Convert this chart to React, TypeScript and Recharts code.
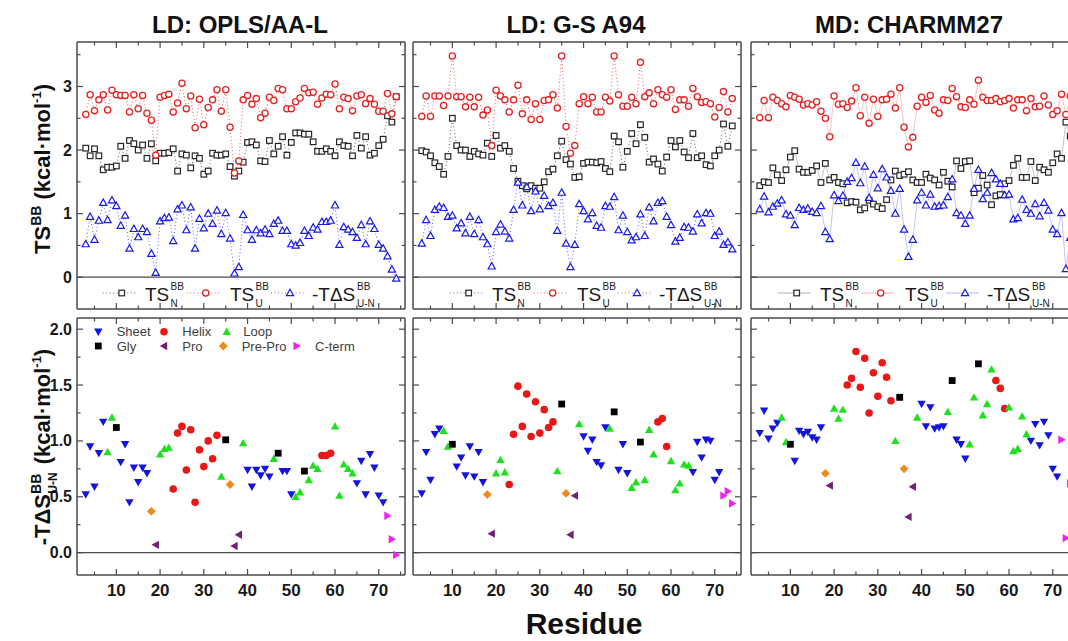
import React from 'react';
import { ComposedChart, Line, Scatter, XAxis, YAxis, ReferenceLine, Legend } from 'recharts';

const residues = [
  3, 4, 5, 6, 7, 8, 9, 10, 11, 12, 13, 14, 15, 16, 17, 18, 19, 20, 21, 22, 23, 24, 25, 26, 27, 28, 29, 30, 31, 32, 33, 34, 35, 36, 37, 38,
  39, 40, 41, 42, 43, 44, 45, 46, 47, 48, 49, 50, 51, 52, 53, 54, 55, 56, 57, 58, 59, 60, 61, 62, 63, 64, 65, 66, 67, 68, 69, 70, 71, 72, 73, 74,
];

// secondary structure class of each residue (S sheet, H helix, L loop, G gly, P pro, PP pre-pro, C c-term)
const ssClass = [
  'S', 'S', 'S', 'S', 'S', 'L', 'L', 'G', 'S', 'S',
  'S', 'S', 'S', 'S', 'S', 'PP', 'P', 'L', 'L', 'L',
  'H', 'H', 'H', 'H', 'H', 'H', 'H', 'H', 'H', 'H',
  'H', 'L', 'G', 'PP', 'P', 'P', 'L', 'S', 'S', 'S',
  'S', 'S', 'S', 'L', 'G', 'S', 'S', 'S', 'L', 'L',
  'G', 'L', 'L', 'L', 'H', 'H', 'H', 'L', 'L', 'L',
  'L', 'L', 'S', 'S', 'S', 'S', 'S', 'S', 'S', 'C',
  'C', 'C',
];

// LD: OPLS/AA-L
const oplsTSN = [
  2.03, 1.91, 2.02, 1.91, 1.69, 1.73, 1.73, 1.75, 2.06, 1.87,
  2.15, 2.10, 2.00, 2.08, 1.87, 2.10, 1.83, 1.95, 1.95, 1.96,
  2.02, 1.67, 1.94, 1.92, 1.72, 1.91, 1.87, 1.62, 1.67, 1.95,
  1.92, 1.92, 1.94, 1.74, 1.59, 1.67, 1.81, 2.12, 2.13, 2.08,
  1.83, 1.82, 2.15, 1.94, 2.06, 2.21, 1.92, 2.12, 2.27, 2.27,
  2.25, 2.25, 2.13, 1.98, 1.98, 2.02, 1.98, 1.91, 2.13, 2.07,
  2.06, 1.91, 2.23, 2.03, 2.21, 1.92, 1.95, 2.07, 2.17, 2.54,
  2.44, 2.84,
];
const oplsTSU = [
  2.56, 2.87, 2.62, 2.79, 2.87, 2.63, 2.94, 2.87, 2.86, 2.86,
  2.60, 2.87, 2.65, 2.86, 2.58, 2.47, 1.92, 2.83, 2.86, 2.88,
  2.60, 2.74, 3.05, 2.65, 2.85, 2.35, 2.80, 2.40, 2.67, 2.79,
  2.95, 2.61, 2.95, 2.36, 1.64, 1.83, 2.79, 2.86, 2.72, 2.81,
  2.51, 2.58, 2.83, 2.78, 2.97, 2.95, 2.65, 2.65, 2.76, 2.82,
  2.97, 2.90, 2.91, 2.72, 2.82, 2.88, 2.87, 3.04, 2.65, 2.83,
  2.81, 2.62, 2.85, 2.87, 2.73, 2.81, 2.72, 2.61, 2.61, 2.89,
  2.57, 2.84,
];
const oplsDS = [
  0.52, 0.95, 0.59, 0.89, 1.17, 0.90, 1.21, 1.12, 0.81, 0.97,
  0.45, 0.76, 0.63, 0.76, 0.71, 0.37, 0.07, 0.88, 0.93, 0.94,
  0.57, 1.07, 1.13, 0.74, 1.10, 0.45, 0.92, 0.77, 1.00, 0.84,
  1.05, 0.68, 1.01, 0.61, 0.06, 0.16, 0.98, 0.74, 0.59, 0.74,
  0.69, 0.75, 0.68, 0.84, 0.89, 0.73, 0.73, 0.52, 0.50, 0.54,
  0.73, 0.65, 0.78, 0.75, 0.87, 0.87, 0.89, 1.13, 0.51, 0.79,
  0.75, 0.71, 0.62, 0.82, 0.52, 0.88, 0.76, 0.51, 0.45, 0.33,
  0.12, -0.02,
];

// LD: G-S A94
const gsTSN = [
  1.99, 1.97, 1.91, 1.80, 1.74, 1.62, 1.90, 2.50, 2.07, 2.00,
  2.00, 1.90, 1.98, 1.94, 1.92, 2.11, 1.90, 2.23, 2.03, 2.07,
  1.98, 1.71, 1.51, 1.44, 1.39, 1.44, 1.40, 1.40, 1.50, 1.66,
  1.70, 1.91, 2.14, 1.85, 1.78, 1.57, 1.58, 1.79, 1.81, 1.81,
  1.80, 1.82, 1.71, 1.66, 2.22, 2.13, 1.73, 1.98, 2.26, 2.10,
  2.40, 2.20, 1.81, 1.86, 1.78, 1.67, 1.89, 2.15, 2.05, 2.15,
  1.97, 1.88, 2.26, 1.88, 1.91, 1.77, 1.75, 1.91, 2.00, 2.41,
  2.06, 2.38,
];
const gsTSU = [
  2.53, 2.85, 2.53, 2.85, 2.85, 2.70, 2.85, 3.48, 2.84, 2.84,
  2.68, 2.83, 2.68, 2.83, 2.55, 2.63, 2.07, 2.94, 2.85, 2.79,
  2.60, 2.79, 3.02, 2.57, 2.79, 2.48, 2.73, 2.48, 2.78, 2.79,
  2.87, 2.66, 3.48, 2.37, 1.95, 2.07, 2.73, 2.84, 2.73, 2.83,
  2.60, 2.60, 2.83, 2.77, 3.48, 2.87, 2.69, 2.69, 2.83, 2.73,
  3.38, 2.84, 2.90, 2.73, 2.95, 2.87, 2.83, 2.95, 2.64, 2.79,
  2.79, 2.69, 2.97, 2.84, 2.75, 2.76, 2.73, 2.52, 2.67, 2.92,
  2.60, 2.81,
];
const gsDS = [
  0.53, 0.90, 0.65, 1.06, 1.11, 1.09, 0.95, 0.97, 0.77, 0.85,
  0.69, 0.95, 0.68, 0.90, 0.63, 0.52, 0.17, 0.71, 0.83, 0.72,
  0.61, 1.06, 1.49, 1.13, 1.42, 1.04, 1.35, 1.07, 1.28, 1.12,
  1.17, 0.73, 1.33, 0.53, 0.16, 0.51, 1.15, 1.04, 0.91, 1.01,
  0.81, 0.78, 1.12, 1.11, 1.26, 0.74, 0.97, 0.71, 0.58, 0.63,
  0.99, 0.65, 1.10, 0.88, 1.17, 1.20, 0.95, 0.82, 0.56, 0.62,
  0.79, 0.78, 0.72, 0.99, 0.85, 1.01, 1.00, 0.65, 0.72, 0.51,
  0.55, 0.44,
];

// MD: CHARMM27
const chTSN = [
  1.44, 1.50, 1.49, 1.72, 1.61, 1.52, 1.69, 1.89, 1.99, 1.70,
  1.65, 1.65, 1.68, 1.75, 1.49, 1.79, 1.53, 1.57, 1.49, 1.47,
  1.17, 1.19, 1.18, 1.06, 1.09, 1.21, 1.15, 1.11, 1.08, 1.22,
  1.53, 1.67, 1.60, 1.62, 1.66, 1.53, 1.49, 1.49, 1.62, 1.56,
  1.53, 1.45, 1.65, 1.51, 1.42, 1.83, 1.71, 1.82, 1.83, 1.33,
  1.40, 1.60, 1.45, 1.14, 1.28, 1.30, 1.47, 1.52, 1.76, 1.87,
  1.57, 1.57, 1.82, 1.52, 1.73, 1.69, 1.65, 1.80, 1.94, 1.87,
  2.44, 2.22,
];
const chTSU = [
  2.51, 2.78, 2.51, 2.83, 2.78, 2.73, 2.68, 2.86, 2.83, 2.80,
  2.71, 2.73, 2.71, 2.76, 2.61, 2.50, 2.21, 2.85, 2.72, 2.73,
  2.67, 2.77, 2.98, 2.54, 2.83, 2.42, 2.80, 2.53, 2.79, 2.80,
  2.88, 2.66, 2.98, 2.36, 2.05, 2.20, 2.69, 2.83, 2.75, 2.86,
  2.63, 2.58, 2.79, 2.78, 2.97, 2.84, 2.68, 2.67, 2.79, 2.72,
  3.10, 2.83, 2.78, 2.78, 2.81, 2.76, 2.78, 2.81, 2.66, 2.79,
  2.79, 2.62, 2.81, 2.68, 2.69, 2.85, 2.71, 2.56, 2.62, 2.88,
  2.56, 2.85,
];
const chDS = [
  1.07, 1.27, 1.02, 1.11, 1.16, 1.21, 0.99, 0.97, 0.82, 1.09,
  1.06, 1.08, 1.03, 1.01, 1.12, 0.71, 0.60, 1.29, 1.20, 1.28,
  1.50, 1.56, 1.80, 1.48, 1.74, 1.25, 1.61, 1.40, 1.70, 1.57,
  1.36, 1.00, 1.39, 0.75, 0.32, 0.59, 1.21, 1.33, 1.13, 1.30,
  1.11, 1.12, 1.13, 1.26, 1.54, 1.01, 0.97, 0.84, 0.97, 1.39,
  1.69, 1.23, 1.33, 1.64, 1.54, 1.47, 1.29, 1.30, 0.91, 0.93,
  1.22, 1.06, 1.00, 1.15, 0.96, 1.17, 1.05, 0.75, 0.68, 1.01,
  0.13, 0.62,
];

const panelTitles = ['LD: OPLS/AA-L', 'LD: G-S A94', 'MD: CHARMM27'];

const classes = [
  { key: 'S', name: 'Sheet', color: '#1414dc' },
  { key: 'H', name: 'Helix', color: '#e81818' },
  { key: 'L', name: 'Loop', color: '#1ee01e' },
  { key: 'G', name: 'Gly', color: '#000000' },
  { key: 'P', name: 'Pro', color: '#74207a' },
  { key: 'PP', name: 'Pre-Pro', color: '#f08a1c' },
  { key: 'C', name: 'C-term', color: '#f020f0' },
];

const xTicks = [5, 10, 15, 20, 25, 30, 35, 40, 45, 50, 55, 60, 65, 70, 75];
const topYTicks = [0, 0.5, 1, 1.5, 2, 2.5, 3, 3.5];
const botYTicks = [0, 0.25, 0.5, 0.75, 1, 1.25, 1.5, 1.75, 2];

const FONT = 'Arial, "Liberation Sans", Helvetica, sans-serif';
const FRAME = '#4a4a4a';
const INK = '#1a1a1a';

const COL_X = [77, 413, 751];
const PANEL_W = 328;
const TOP_Y = 42;
const TOP_H = 267;
const BOT_Y = 318;
const BOT_H = 257;
const M = { top: 8, right: 8, bottom: 36, left: 52 };

const isTen = (v: number) => v % 10 === 0;
const isInt = (v: number) => Math.abs(v - Math.round(v)) < 1e-6;
const isHalf = (v: number) => isInt(v * 2);

function axisTick(side: string, major: (v: number) => boolean, fmt?: (v: number) => string) {
  return (props: any) => {
    const { x, y, payload } = props;
    const v = Number(payload.value);
    const len = major(v) ? 6 : 3.5;
    const dx = side === 'left' ? len : side === 'right' ? -len : 0;
    const dy = side === 'bottom' ? -len : side === 'top' ? len : 0;
    let label = null;
    if (fmt && major(v)) {
      label =
        side === 'bottom' ? (
          <text x={x} y={y + 21} textAnchor="middle" fontSize={17} fontWeight="bold" fill={INK} fontFamily={FONT}>
            {fmt(v)}
          </text>
        ) : (
          <text x={x - 5} y={y + 5.5} textAnchor="end" fontSize={16} fontWeight="bold" fill={INK} fontFamily={FONT}>
            {fmt(v)}
          </text>
        );
    }
    return (
      <g>
        <line x1={x} y1={y} x2={x + dx} y2={y + dy} stroke={FRAME} strokeWidth={1.2} />
        {label}
      </g>
    );
  };
}

function frameAxes(
  yDomain: number[],
  yTicks: number[],
  yMajor: (v: number) => boolean,
  xFmt?: (v: number) => string,
  yFmt?: (v: number) => string,
) {
  const line = { stroke: FRAME, strokeWidth: 1.5 };
  const common = { type: 'number' as const, interval: 0, allowDataOverflow: true, tickSize: 0, tickMargin: 0, tickLine: false, axisLine: line };
  return [
    <XAxis key="xb" xAxisId={0} dataKey="r" domain={[1, 76]} ticks={xTicks} height={1} tick={axisTick('bottom', isTen, xFmt)} {...common} />,
    <XAxis key="xt" xAxisId="t" orientation="top" dataKey="r" domain={[1, 76]} ticks={xTicks} height={1} tick={axisTick('top', isTen)} {...common} />,
    <YAxis key="yl" yAxisId={0} domain={yDomain} ticks={yTicks} width={1} tick={axisTick('left', yMajor, yFmt)} {...common} />,
    <YAxis key="yr" yAxisId="r" orientation="right" domain={yDomain} ticks={yTicks} width={1} tick={axisTick('right', yMajor)} {...common} />,
  ];
}

function openMark(kind: string, cx: number, cy: number, color: string, key?: any) {
  if (kind === 'n') return <rect key={key} x={cx - 2.8} y={cy - 2.8} width={5.6} height={5.6} fill="#fff" stroke={color} strokeWidth={1.2} />;
  if (kind === 'u') return <circle key={key} cx={cx} cy={cy} r={3.1} fill="#fff" stroke={color} strokeWidth={1.3} />;
  return <polygon key={key} points={`${cx},${cy - 3.8} ${cx + 3.6},${cy + 2.6} ${cx - 3.6},${cy + 2.6}`} fill="#fff" stroke={color} strokeWidth={1.2} />;
}

function solidMark(kind: string, cx: number, cy: number, color: string, key?: any) {
  switch (kind) {
    case 'S':
      return <polygon key={key} points={`${cx - 4.2},${cy - 3.2} ${cx + 4.2},${cy - 3.2} ${cx},${cy + 4.2}`} fill={color} />;
    case 'L':
      return <polygon key={key} points={`${cx - 4.2},${cy + 3.2} ${cx + 4.2},${cy + 3.2} ${cx},${cy - 4.2}`} fill={color} />;
    case 'H':
      return <circle key={key} cx={cx} cy={cy} r={3.8} fill={color} />;
    case 'G':
      return <rect key={key} x={cx - 3.4} y={cy - 3.4} width={6.8} height={6.8} fill={color} />;
    case 'P':
      return <polygon key={key} points={`${cx + 3.2},${cy - 4.2} ${cx + 3.2},${cy + 4.2} ${cx - 4.2},${cy}`} fill={color} />;
    case 'PP':
      return <polygon key={key} points={`${cx},${cy - 4.4} ${cx + 4.4},${cy} ${cx},${cy + 4.4} ${cx - 4.4},${cy}`} fill={color} />;
    default:
      return <polygon key={key} points={`${cx - 3.2},${cy - 4.2} ${cx - 3.2},${cy + 4.2} ${cx + 4.2},${cy}`} fill={color} />;
  }
}

const seriesTop = [
  { key: 'n', sub: 'N', label: 'TS', color: '#262626', lineColor: '#6a6a6a' },
  { key: 'u', sub: 'U', label: 'TS', color: '#e42222', lineColor: '#ee6a6a' },
  { key: 'd', sub: 'U-N', label: '-TΔS', color: '#1a1ae6', lineColor: '#6a6aee' },
];

function TopLegend({ dotted, shift }: { dotted: boolean; shift: number }) {
  const marks = [44.7, 128.7, 213];
  const texts = [68, 153, 235];
  const supX = [25.5, 25.5, 45];
  return (
    <svg width={PANEL_W} height={31} style={{ overflow: 'visible', display: 'block' }}>
      {seriesTop.map((s, i) => {
        const mx = marks[i] + shift;
        const tx = texts[i] + shift;
        return (
          <g key={s.key} fontFamily={FONT}>
            <line x1={mx - 19} y1={15} x2={mx + 14} y2={15} stroke={s.lineColor} strokeWidth={1.1} strokeDasharray={dotted ? '1 2.5' : undefined} strokeOpacity={dotted ? 1 : 0.5} />
            {openMark(s.key, mx, 15, s.color)}
            <text x={tx} y={23} fontSize={19} fill={INK}>{s.label}</text>
            <text x={tx + supX[i]} y={12} fontSize={10} fill={INK}>BB</text>
            <text x={tx + supX[i]} y={29} fontSize={10} fill={INK}>{s.sub}</text>
          </g>
        );
      })}
    </svg>
  );
}

function TopPanel({ col, n, u, d, dotted, shift }: { col: number; n: number[]; u: number[]; d: number[]; dotted: boolean; shift: number }) {
  const rows = residues.map((r, i) => ({ r, n: n[i], u: u[i], d: d[i] }));
  return (
    <div style={{ position: 'absolute', left: COL_X[col] - M.left - 1, top: TOP_Y - M.top - 1 }}>
      <ComposedChart width={PANEL_W + M.left + M.right + 2} height={TOP_H + M.top + M.bottom + 2} data={rows} margin={M}>
        {frameAxes([-0.5, 3.7], topYTicks, isInt, undefined, col === 0 ? (v) => String(v) : undefined)}
        <ReferenceLine y={0} stroke={FRAME} strokeWidth={1.3} />
        {seriesTop.map((s) => (
          <Line
            key={s.key}
            dataKey={s.key}
            type="linear"
            stroke={s.lineColor}
            strokeWidth={dotted ? 1.1 : 0.9}
            strokeOpacity={dotted ? 1 : 0.45}
            strokeDasharray={dotted ? '1 2.5' : undefined}
            dot={(p: any) => openMark(s.key, p.cx, p.cy, s.color, `${s.key}${p.index}`)}
            activeDot={false}
            isAnimationActive={false}
          />
        ))}
        <Legend
          layout="horizontal"
          verticalAlign="middle"
          align="center"
          content={() => <TopLegend dotted={dotted} shift={shift} />}
          wrapperStyle={{ position: 'absolute', left: M.left + 1, top: M.top + 1 + 236, width: PANEL_W, height: 31 }}
        />
      </ComposedChart>
    </div>
  );
}

function ClassLegend() {
  const spots = [
    { k: 'S', x: 21.3, y: 13.7, tx: 39.7 },
    { k: 'H', x: 87, y: 13.7, tx: 105.3 },
    { k: 'L', x: 149.7, y: 13.7, tx: 166.3 },
    { k: 'G', x: 21.3, y: 28, tx: 39.7 },
    { k: 'P', x: 87, y: 28, tx: 105.3 },
    { k: 'PP', x: 146.3, y: 28, tx: 164.7 },
    { k: 'C', x: 219.7, y: 28, tx: 238 },
  ];
  return (
    <svg width={PANEL_W} height={40} style={{ display: 'block' }}>
      {spots.map((s) => {
        const c = classes.find((q) => q.key === s.k)!;
        return (
          <g key={s.k}>
            {solidMark(s.k, s.x, s.y, c.color)}
            <text x={s.tx} y={s.y + 4.6} fontSize={13} fill="#404040" fontFamily={FONT}>{c.name}</text>
          </g>
        );
      })}
    </svg>
  );
}

function BottomPanel({ col, d, legend }: { col: number; d: number[]; legend: boolean }) {
  const pts = residues.map((r, i) => ({ r, v: d[i], k: ssClass[i] }));
  return (
    <div style={{ position: 'absolute', left: COL_X[col] - M.left - 1, top: BOT_Y - M.top - 1 }}>
      <ComposedChart width={PANEL_W + M.left + M.right + 2} height={BOT_H + M.top + M.bottom + 2} margin={M}>
        {frameAxes([-0.2, 2.1], botYTicks, isHalf, (v) => String(v), col === 0 ? (v) => v.toFixed(1) : undefined)}
        <ReferenceLine y={0} stroke={FRAME} strokeWidth={1.3} />
        {classes.map((c) => (
          <Scatter
            key={c.key}
            name={c.name}
            data={pts.filter((p) => p.k === c.key)}
            dataKey="v"
            fill={c.color}
            shape={(p: any) => solidMark(c.key, p.cx, p.cy, c.color)}
            isAnimationActive={false}
          />
        ))}
        {legend && (
          <Legend
            layout="horizontal"
            verticalAlign="middle"
            align="center"
            content={() => <ClassLegend />}
            wrapperStyle={{ position: 'absolute', left: M.left + 1, top: M.top + 1, width: PANEL_W, height: 40 }}
          />
        )}
      </ComposedChart>
    </div>
  );
}

function Labels() {
  const titleX = [240, 576, 909];
  return (
    <svg width={1068} height={641} style={{ position: 'absolute', left: 0, top: 0, pointerEvents: 'none' }} fontFamily={FONT}>
      {panelTitles.map((t, i) => (
        <text key={t} x={titleX[i]} y={33} textAnchor="middle" fontSize={24} fontWeight="bold" fill="#111">
          {t}
        </text>
      ))}
      <text transform="translate(50,169) rotate(-90)" textAnchor="middle" fontSize={22} fontWeight="bold" fill="#111">
        TS<tspan fontSize={14} dy={-9}>BB</tspan>
        <tspan dy={9}> (kcal·mol</tspan>
        <tspan fontSize={13} dy={-9}>-1</tspan>
        <tspan dy={9}>)</tspan>
      </text>
      <text transform="translate(50,447) rotate(-90)" textAnchor="middle" fontSize={22} fontWeight="bold" fill="#111">
        -TΔS<tspan fontSize={14} dy={-9}>BB</tspan>
        <tspan fontSize={12} dx={-20} dy={16}>U-N</tspan>
        <tspan dx={2} dy={-7}> (kcal·mol</tspan>
        <tspan fontSize={13} dy={-9}>-1</tspan>
        <tspan dy={9}>)</tspan>
      </text>
      <text x={584} y={634} textAnchor="middle" fontSize={30} fontWeight="bold" fill="#111">
        Residue
      </text>
    </svg>
  );
}

export default function App() {
  return (
    <div style={{ position: 'absolute', left: 0, top: 0, width: 1068, height: 641, overflow: 'hidden', background: '#fff', fontFamily: FONT }}>
      <TopPanel col={0} n={oplsTSN} u={oplsTSU} d={oplsDS} dotted shift={0} />
      <TopPanel col={1} n={gsTSN} u={gsTSU} d={gsDS} dotted shift={11} />
      <TopPanel col={2} n={chTSN} u={chTSU} d={chDS} dotted={false} shift={1} />
      <BottomPanel col={0} d={oplsDS} legend />
      <BottomPanel col={1} d={gsDS} legend={false} />
      <BottomPanel col={2} d={chDS} legend={false} />
      <Labels />
    </div>
  );
}
